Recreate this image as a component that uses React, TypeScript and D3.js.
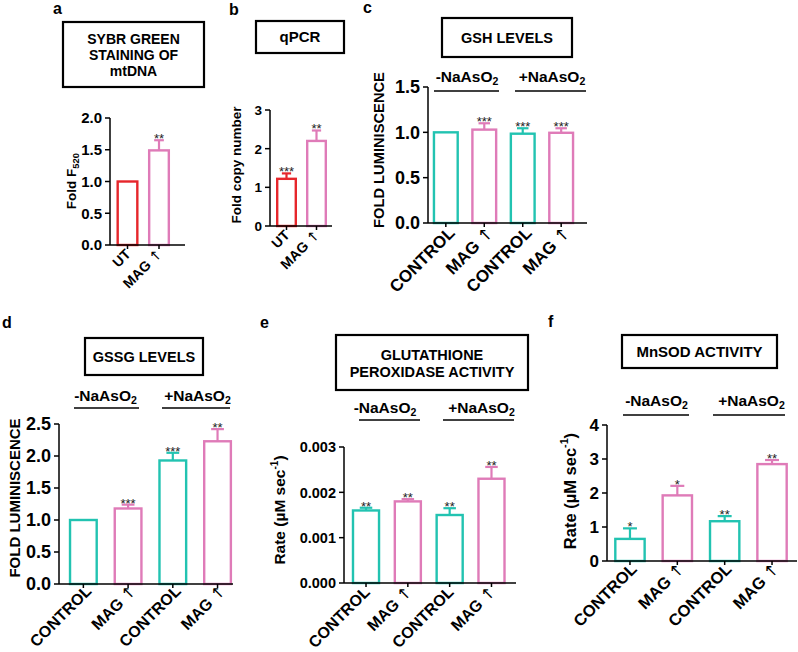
import React from 'react';
import * as d3 from 'd3';

const TEAL = '#22c3b1';
const PINK = '#df7bb8';
const RED = '#e6262b';
const FONT = '"Liberation Sans", Arial, sans-serif';

// ---------- data ----------
const catsAB = ['UT', 'MAG ↑'];
const cats4 = ['CONTROL', 'MAG ↑', 'CONTROL', 'MAG ↑'];
const groupNames = ['-NaAsO', '+NaAsO'];

const aValues = [1.0, 1.49];
const aErrors = [0, 0.16];
const aStars = ['', '**'];
const aTicks = [0, 0.5, 1.0, 1.5, 2.0];

const bValues = [1.22, 2.2];
const bErrors = [0.14, 0.27];
const bStars = ['***', '**'];
const bTicks = [0, 1, 2, 3];

const cValues = [1.0, 1.03, 0.985, 0.995];
const cErrors = [0, 0.07, 0.06, 0.05];
const cStars = ['', '***', '***', '***'];
const cTicks = [0, 0.5, 1.0, 1.5];

const dValues = [1.0, 1.18, 1.93, 2.23];
const dErrors = [0, 0.06, 0.12, 0.19];
const dStars = ['', '***', '***', '**'];
const dTicks = [0, 0.5, 1.0, 1.5, 2.0, 2.5];

const eValues = [0.0016, 0.0018, 0.0015, 0.0023];
const eErrors = [0.00006, 0.00005, 0.00015, 0.00026];
const eStars = ['**', '**', '**', '**'];
const eTicks = [0, 0.001, 0.002, 0.003];

const fValues = [0.65, 1.93, 1.17, 2.85];
const fErrors = [0.31, 0.28, 0.15, 0.12];
const fStars = ['*', '*', '**', '**'];
const fTicks = [0, 1, 2, 3, 4];

const colorsAB = [RED, PINK];
const colors4 = [TEAL, PINK, TEAL, PINK];

type Groups = {
  textY: number;
  lineY: number;
  textX: number[];
  lines: [number, number][];
  size: number;
};

type PanelProps = {
  letter: string;
  letterPos: [number, number];
  titleLines: string[];
  box: [number, number, number, number];
  titleYs: number[];
  titleSize: number;
  cats: string[];
  values: number[];
  errors: number[];
  stars: string[];
  colors: string[];
  yDomain: [number, number];
  yRange: [number, number];
  ticks: number[];
  tickFmt: (v: number) => string;
  tickSize: number;
  axisX: number;
  axisEnd: number;
  band: [number, number];
  pad: number;
  yLabel: React.ReactNode;
  yLabelPos: [number, number];
  yLabelSize: number;
  catSize: number;
  catOffset: [number, number];
  groups?: Groups;
};

function catText(c: string) {
  if (c.includes('↑')) {
    const base = c.replace('↑', '');
    return (
      <>
        {base}
        <tspan fontFamily='"DejaVu Sans", sans-serif' fontWeight="normal">↑</tspan>
      </>
    );
  }
  return c;
}

function Panel(p: PanelProps) {
  const y = d3.scaleLinear().domain(p.yDomain).range(p.yRange);
  const idx = p.cats.map((_, i) => String(i));
  const x = d3
    .scaleBand<string>()
    .domain(idx)
    .range(p.band)
    .paddingInner(p.pad)
    .paddingOuter(p.pad / 2);
  const bw = x.bandwidth();
  const y0 = y(0);
  const [bx, by, bwid, bh] = p.box;
  return (
    <g fontFamily={FONT} fontWeight="bold">
      <text x={p.letterPos[0]} y={p.letterPos[1]} fontSize={16}>
        {p.letter}
      </text>
      <rect x={bx} y={by} width={bwid} height={bh} fill="none" stroke="#000" strokeWidth={2.2} />
      {p.titleLines.map((t, i) => (
        <text key={i} x={bx + bwid / 2} y={p.titleYs[i]} textAnchor="middle" fontSize={p.titleSize}>
          {t}
        </text>
      ))}
      {p.groups && (
        <g>
          {p.groups.lines.map((l, i) => (
            <line key={'gl' + i} x1={l[0]} x2={l[1]} y1={p.groups!.lineY} y2={p.groups!.lineY} stroke="#000" strokeWidth={1.5} />
          ))}
          {groupNames.map((g, i) => (
            <text key={'gt' + i} x={p.groups!.textX[i]} y={p.groups!.textY} textAnchor="middle" fontSize={p.groups!.size}>
              {g}
              <tspan fontSize="0.68em" dy="0.3em">2</tspan>
            </text>
          ))}
        </g>
      )}
      {/* bars */}
      {p.values.map((v, i) => {
        const cx = (x(String(i)) as number) + bw / 2;
        const top = y(v);
        const errTop = y(v + p.errors[i]);
        const cap = bw * 0.22;
        return (
          <g key={'b' + i}>
            <rect
              x={(x(String(i)) as number) + 1.2}
              y={top}
              width={bw - 2.4}
              height={y0 - top}
              fill="#fff"
              stroke={p.colors[i]}
              strokeWidth={2.4}
            />
            {p.errors[i] > 0 && (
              <g stroke={p.colors[i]} strokeWidth={2.2}>
                <line x1={cx} x2={cx} y1={top} y2={errTop} />
                <line x1={cx - cap} x2={cx + cap} y1={errTop} y2={errTop} />
              </g>
            )}
            {p.stars[i] && (
              <text x={cx} y={(p.errors[i] > 0 ? errTop : top) + 3} textAnchor="middle" fontSize={13} fontWeight="normal" fill="#222">
                {p.stars[i]}
              </text>
            )}
          </g>
        );
      })}
      {/* y axis */}
      <line x1={p.axisX} x2={p.axisX} y1={y0} y2={y(p.yDomain[1])} stroke="#000" strokeWidth={1.5} />
      {p.ticks.map((t, i) => (
        <g key={'yt' + i}>
          <line x1={p.axisX - 5} x2={p.axisX} y1={y(t)} y2={y(t)} stroke="#000" strokeWidth={1.5} />
          <text x={p.axisX - 8} y={y(t)} dy="0.36em" textAnchor="end" fontSize={p.tickSize}>
            {p.tickFmt(t)}
          </text>
        </g>
      ))}
      {/* x axis */}
      <line x1={p.axisX} x2={p.axisEnd} y1={y0} y2={y0} stroke="#000" strokeWidth={1.5} />
      {p.cats.map((c, i) => {
        const cx = (x(String(i)) as number) + bw / 2;
        const ax = cx + p.catOffset[0];
        const ay = y0 + p.catOffset[1];
        return (
          <g key={'xt' + i}>
            <line x1={cx} x2={cx} y1={y0} y2={y0 + 4} stroke="#000" strokeWidth={1.5} />
            <text x={ax} y={ay} textAnchor="end" fontSize={p.catSize} transform={`rotate(-45 ${ax} ${ay})`}>
              {catText(c)}
            </text>
          </g>
        );
      })}
      <text
        x={p.yLabelPos[0]}
        y={p.yLabelPos[1]}
        textAnchor="middle"
        dy="0.35em"
        fontSize={p.yLabelSize}
        transform={`rotate(-90 ${p.yLabelPos[0]} ${p.yLabelPos[1]})`}
      >
        {p.yLabel}
      </text>
    </g>
  );
}

const rateLabel = (
  <>
    Rate (µM sec
    <tspan fontSize="0.65em" dy="-0.7em">-1</tspan>
    <tspan dy="0.45em">)</tspan>
  </>
);

export default function App() {
  const f1 = d3.format('.1f');
  const f0 = d3.format('d');
  const f3 = d3.format('.3f');
  return (
    <svg width={798} height={652} style={{ position: 'absolute', left: 0, top: 0, background: '#fff' }}>
      <rect x={0} y={0} width={798} height={652} fill="#fff" />
      <Panel
        letter="a"
        letterPos={[53, 14]}
        titleLines={['SYBR GREEN', 'STAINING OF', 'mtDNA']}
        box={[63, 22, 141, 65]}
        titleYs={[44, 60, 76]}
        titleSize={14}
        cats={catsAB}
        values={aValues}
        errors={aErrors}
        stars={aStars}
        colors={colorsAB}
        yDomain={[0, 2]}
        yRange={[245, 118]}
        ticks={aTicks}
        tickFmt={f1}
        tickSize={15}
        axisX={110}
        axisEnd={185}
        band={[111.75, 174.75]}
        pad={0.3}
        yLabel={
          <>
            Fold F<tspan fontSize="0.7em" dy="0.35em">520</tspan>
          </>
        }
        yLabelPos={[71, 181]}
        yLabelSize={13.5}
        catSize={14}
        catOffset={[4, 10]}
      />
      <Panel
        letter="b"
        letterPos={[229, 15]}
        titleLines={['qPCR']}
        box={[256, 21, 88, 32]}
        titleYs={[42]}
        titleSize={15}
        cats={catsAB}
        values={bValues}
        errors={bErrors}
        stars={bStars}
        colors={colorsAB}
        yDomain={[0, 3]}
        yRange={[226, 110]}
        ticks={bTicks}
        tickFmt={f0}
        tickSize={13.5}
        axisX={270}
        axisEnd={332}
        band={[271.5, 331.5]}
        pad={0.3}
        yLabel="Fold copy number"
        yLabelPos={[236, 165]}
        yLabelSize={13.5}
        catSize={14}
        catOffset={[4, 10]}
      />
      <Panel
        letter="c"
        letterPos={[363, 13]}
        titleLines={['GSH LEVELS']}
        box={[442, 18, 130, 39]}
        titleYs={[43]}
        titleSize={14.5}
        cats={cats4}
        values={cValues}
        errors={cErrors}
        stars={cStars}
        colors={colors4}
        yDomain={[0, 1.5]}
        yRange={[223, 87]}
        ticks={cTicks}
        tickFmt={f1}
        tickSize={18}
        axisX={428}
        axisEnd={587}
        band={[426.6, 580.4]}
        pad={0.32}
        yLabel="FOLD LUMINISCENCE"
        yLabelPos={[379, 150]}
        yLabelSize={14.7}
        catSize={17}
        catOffset={[10, 11]}
        groups={{
          textY: 82,
          lineY: 91,
          textX: [467, 552],
          lines: [
            [434, 499],
            [515, 586],
          ],
          size: 15.5,
        }}
      />
      <Panel
        letter="d"
        letterPos={[2, 328]}
        titleLines={['GSSG LEVELS']}
        box={[85, 338, 118, 37]}
        titleYs={[362]}
        titleSize={14.5}
        cats={cats4}
        values={dValues}
        errors={dErrors}
        stars={dStars}
        colors={colors4}
        yDomain={[0, 2.5]}
        yRange={[584, 424]}
        ticks={dTicks}
        tickFmt={f1}
        tickSize={18}
        axisX={59}
        axisEnd={233}
        band={[61, 239.9]}
        pad={0.35}
        yLabel="FOLD LUMINISCENCE"
        yLabelPos={[15, 498]}
        yLabelSize={15}
        catSize={16}
        catOffset={[9, 8]}
        groups={{
          textY: 401,
          lineY: 408,
          textX: [105.5, 197.5],
          lines: [
            [74, 139],
            [162, 230],
          ],
          size: 15.5,
        }}
      />
      <Panel
        letter="e"
        letterPos={[260, 328]}
        titleLines={['GLUTATHIONE', 'PEROXIDASE ACTIVITY']}
        box={[336, 335, 192, 55]}
        titleYs={[360, 377]}
        titleSize={14.5}
        cats={cats4}
        values={eValues}
        errors={eErrors}
        stars={eStars}
        colors={colors4}
        yDomain={[0, 0.003]}
        yRange={[583, 447]}
        ticks={eTicks}
        tickFmt={f3}
        tickSize={14.5}
        axisX={344}
        axisEnd={516}
        band={[345.1, 512.4]}
        pad={0.32}
        yLabel={rateLabel}
        yLabelPos={[280, 510]}
        yLabelSize={15.5}
        catSize={16}
        catOffset={[5, 10]}
        groups={{
          textY: 413,
          lineY: 420,
          textX: [385, 481.5],
          lines: [
            [359, 420],
            [443, 514],
          ],
          size: 15.5,
        }}
      />
      <Panel
        letter="f"
        letterPos={[548, 327]}
        titleLines={['MnSOD ACTIVITY']}
        box={[622, 335, 155, 33]}
        titleYs={[357]}
        titleSize={15}
        cats={cats4}
        values={fValues}
        errors={fErrors}
        stars={fStars}
        colors={colors4}
        yDomain={[0, 4]}
        yRange={[561, 425]}
        ticks={fTicks}
        tickFmt={f0}
        tickSize={17}
        axisX={607}
        axisEnd={797}
        band={[606.3, 795.7]}
        pad={0.33}
        yLabel={rateLabel}
        yLabelPos={[570, 491]}
        yLabelSize={16.5}
        catSize={16.5}
        catOffset={[8, 9]}
        groups={{
          textY: 406,
          lineY: 415,
          textX: [656.5, 751.5],
          lines: [
            [623, 689],
            [713, 785],
          ],
          size: 15.5,
        }}
      />
    </svg>
  );
}
